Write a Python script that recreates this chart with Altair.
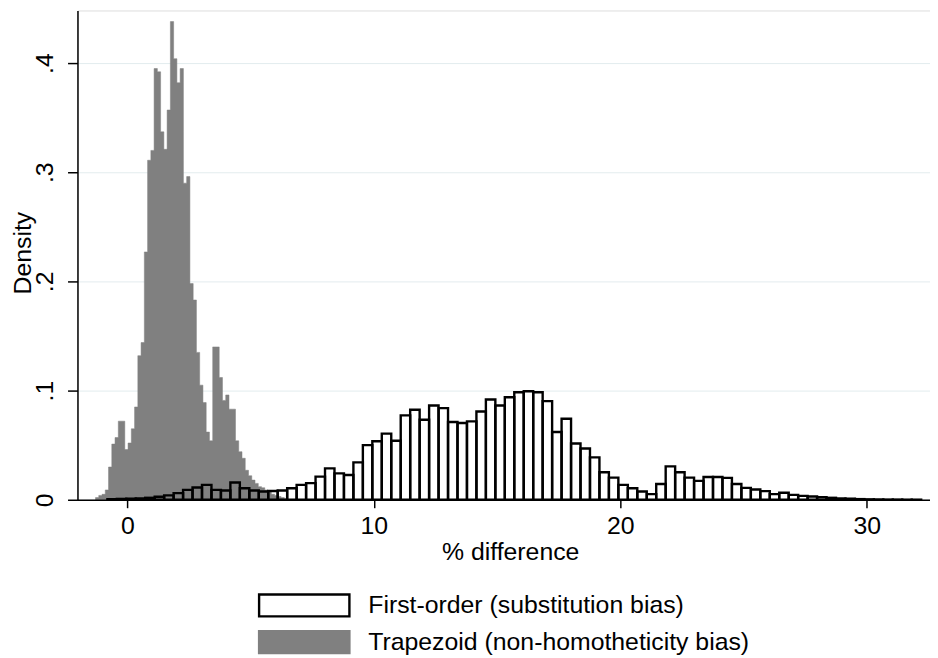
import altair as alt
import pandas as pd

# ---- data (density per bin) ----
series_names = ["First-order (substitution bias)", "Trapezoid (non-homotheticity bias)"]

# Trapezoid (non-homotheticity bias): narrow bins
trap_start = -1.294
trap_width = 0.1321
trap_density = [
    0.002, 0.004, 0.005, 0.009, 0.030, 0.051, 0.057, 0.072, 0.072, 0.046,
    0.052, 0.065, 0.085, 0.132, 0.144, 0.227, 0.311, 0.320, 0.395, 0.392,
    0.337, 0.321, 0.357, 0.438, 0.404, 0.382, 0.395, 0.290, 0.296, 0.198,
    0.183, 0.135, 0.105, 0.089, 0.062, 0.054, 0.140, 0.140, 0.112, 0.091,
    0.096, 0.083, 0.083, 0.054, 0.044, 0.038, 0.027, 0.022, 0.018, 0.015,
    0.012, 0.011, 0.009, 0.007, 0.005, 0.004, 0.003, 0.002, 0.001,
]

# First-order (substitution bias): wide bins
first_start = -0.813
first_width = 0.384
first_density = [
    0.0005, 0.0008, 0.0010, 0.0012, 0.0018, 0.0028, 0.0040, 0.0061, 0.0091, 0.0112,
    0.0136, 0.0091, 0.0085, 0.0158, 0.0106, 0.0085, 0.0076, 0.0080, 0.0085, 0.0106,
    0.0136, 0.0152, 0.0212, 0.0288, 0.0242, 0.0227, 0.0342, 0.0500, 0.0536, 0.0606,
    0.0540, 0.0773, 0.0824, 0.0733, 0.0864, 0.0839, 0.0712, 0.0703, 0.0718, 0.0809,
    0.0918, 0.0864, 0.0939, 0.0985, 0.0994, 0.0985, 0.0903, 0.0621, 0.0742, 0.0515,
    0.0470, 0.0388, 0.0252, 0.0203, 0.0136, 0.0106, 0.0076, 0.0052, 0.0145, 0.0306,
    0.0252, 0.0203, 0.0173, 0.0209, 0.0209, 0.0200, 0.0145, 0.0109, 0.0094, 0.0079,
    0.0052, 0.0064, 0.0045, 0.0036, 0.0030, 0.0024, 0.0018, 0.0012, 0.0010, 0.0006,
    0.0004, 0.0003, 0.0002, 0.0002, 0.0001, 0.0001,
]

x_ticks = [0, 10, 20, 30]
y_ticks = [0, 0.1, 0.2, 0.3, 0.4]


def hist_frame(name, start, width, dens):
    return pd.DataFrame({
        "series": name,
        "lo": [start + i * width for i in range(len(dens))],
        "hi": [start + (i + 1) * width for i in range(len(dens))],
        "density": dens,
        "base": 0.0,
    })


df_first = hist_frame(series_names[0], first_start, first_width, first_density)

# filled histogram drawn as a step area (bin left edges + closing right edge)
n_trap = len(trap_density)
df_trap = pd.DataFrame({
    "series": series_names[1],
    "lo": [trap_start + i * trap_width for i in range(n_trap + 1)],
    "density": list(trap_density) + [0.0],
})

FONT = "Liberation Sans"

x_enc = alt.X(
    "lo:Q",
    scale=alt.Scale(domain=[-2.026, 32.569], nice=False, zero=False),
    axis=alt.Axis(
        values=x_ticks, title="% difference", grid=False,
        tickSize=8, tickWidth=1.5, tickColor="black",
        domainColor="black", domainWidth=1.5,
        labelFontSize=25, labelColor="black", labelPadding=6, labelFlush=False,
        labelFont=FONT, titleFont=FONT,
        titleFontSize=25, titleFontWeight="normal", titleColor="black",
        titleX=436, titleY=40.5, titleBaseline="top", titleAlign="center",
        zindex=1,
    ),
)
y_enc = alt.Y(
    "density:Q",
    scale=alt.Scale(domain=[0, 0.44818], nice=False),
    axis=alt.Axis(
        values=y_ticks, title="Density",
        labelExpr="datum.value == 0 ? '0' : replace(format(datum.value, '.1f'), '0.', '.')",
        labelAngle=270, labelAlign="center", labelBaseline="bottom",
        labelPadding=10, labelFlush=False,
        tickSize=10, tickWidth=1.5, tickColor="black",
        domainColor="black", domainWidth=1.5,
        grid=True, gridColor="#e3ecee", gridWidth=1,
        labelFontSize=25, labelColor="black", labelFont=FONT, titleFont=FONT,
        titleFontSize=25, titleFontWeight="normal", titleColor="black",
        titleAngle=270, titleX=-42, titleY=244, titleBaseline="bottom", titleAlign="center",
    ),
)

legend = alt.Legend(
    orient="none", legendX=216, legendY=587, direction="vertical", title=None,
    symbolType="M-4.136,-1H4.136V1H-4.136Z", symbolSize=484, symbolStrokeWidth=2.4,
    symbolOffset=0, labelOffset=52, rowPadding=4, padding=0,
    labelFontSize=25, labelFont=FONT, labelColor="black", labelLimit=0,
)

fill_enc = alt.Fill(
    "series:N",
    scale=alt.Scale(domain=series_names, range=["transparent", "#808080"]),
    legend=legend,
)
stroke_enc = alt.Stroke(
    "series:N",
    scale=alt.Scale(domain=series_names, range=["black", "#808080"]),
    legend=legend,
)

trap_layer = alt.Chart(df_trap).mark_area(
    interpolate="step-after", strokeWidth=0.5, opacity=1
).encode(
    x=x_enc, y=y_enc, fill=fill_enc, stroke=stroke_enc,
)
first_layer = alt.Chart(df_first).mark_rect(strokeWidth=2.4).encode(
    x=x_enc, x2="hi:Q", y=y_enc, y2="base:Q", fill=fill_enc, stroke=stroke_enc,
)

chart = (
    alt.layer(trap_layer, first_layer)
    .properties(
        width=859, height=493,
        padding={"left": 70, "top": 0, "right": 0, "bottom": 165},
        autosize=alt.AutoSizeParams(type="none"),
    )
    .configure_view(stroke=None)
    .configure(background="white", font=FONT)
)

chart.save("out.html", embed_options={"renderer": "svg", "actions": False})
